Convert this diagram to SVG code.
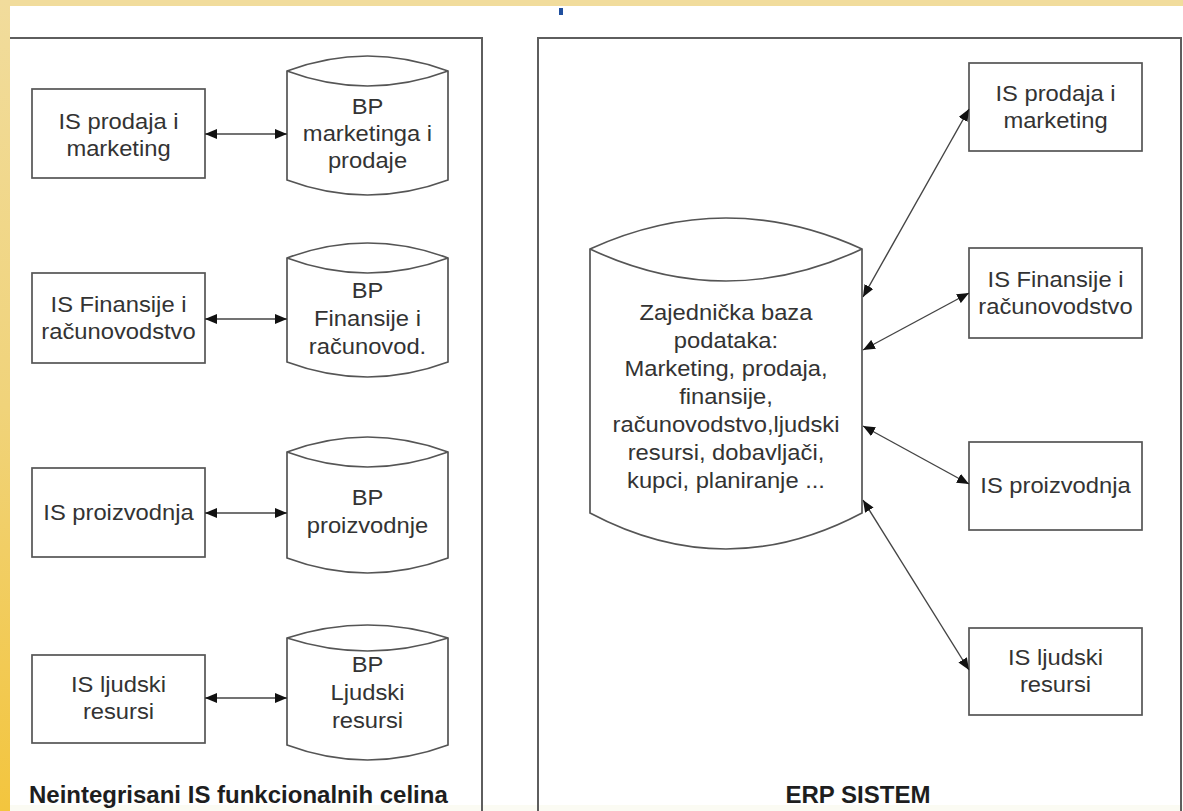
<svg xmlns="http://www.w3.org/2000/svg" width="1183" height="811" viewBox="0 0 1183 811">
  <defs>
    <linearGradient id="sideBand" x1="0" y1="0" x2="0" y2="1">
      <stop offset="0" stop-color="#f1dc9c"/>
      <stop offset="0.5" stop-color="#f0d37a"/>
      <stop offset="1" stop-color="#f3c53e"/>
    </linearGradient>
    <marker id="arrow" markerUnits="userSpaceOnUse" markerWidth="12" markerHeight="10" refX="12" refY="5" orient="auto-start-reverse">
      <path d="M0,0 L12,5 L0,10 z" fill="#111"/>
    </marker>
    <style>
      .frame { fill: none; stroke: #5e5e5e; stroke-width: 2; }
      .box { fill: #fff; stroke: #555; stroke-width: 1.7; }
      .db { fill: #fff; stroke: #555; stroke-width: 1.7; stroke-linejoin: miter; }
      .lbl { font-family: "Liberation Sans", Arial, sans-serif; font-size: 22px; fill: #333; text-anchor: middle; }
      .title { font-family: "Liberation Sans", Arial, sans-serif; font-size: 24px; font-weight: bold; fill: #1e1e1e; }
      .link { fill: none; stroke: #444; stroke-width: 1.4; marker-start: url(#arrow); marker-end: url(#arrow); }
    </style>
  </defs>

  <!-- page background and slide edges -->
  <rect x="0" y="0" width="1183" height="811" fill="#fff"/>
  <rect x="0" y="805" width="1183" height="6" fill="#fbfbf3"/>
  <rect x="0" y="0" width="1183" height="6" fill="#f1dc9c"/>
  <rect x="0" y="0" width="10" height="811" fill="url(#sideBand)"/>
  <rect x="559" y="8" width="4" height="7" fill="#1f4f9e"/>

  <!-- panel frames -->
  <g id="panel-left">
    <path class="frame" d="M10,38 H482 V811"/>
    <text class="title" x="29" y="803">Neintegrisani IS funkcionalnih celina</text>
  </g>
  <g id="panel-right">
    <path class="frame" d="M538,811 V38 H1181 V811"/>
    <text class="title" x="858" y="803" text-anchor="middle">ERP SISTEM</text>
  </g>

  <!-- left column: separate systems with their own databases -->
  <g id="is-prodaja-left">
    <rect class="box" x="32" y="89" width="173" height="89"/>
    <g transform="translate(118.5 0) scale(1.08 1)">
      <text class="lbl" x="0" y="129">IS prodaja i</text>
      <text class="lbl" x="0" y="156">marketing</text>
    </g>
  </g>
  <g id="bp-marketinga">
    <path class="db" d="M287,71 Q367.5,41 448,71 V180 Q367.5,210 287,180 Z"/>
    <path class="db" d="M287,71 Q367.5,101 448,71" fill="none"/>
    <g transform="translate(367.5 0) scale(1.08 1)">
      <text class="lbl" x="0" y="114">BP</text>
      <text class="lbl" x="0" y="141">marketinga i</text>
      <text class="lbl" x="0" y="168">prodaje</text>
    </g>
  </g>

  <g id="is-finansije-left">
    <rect class="box" x="32" y="273" width="173" height="90"/>
    <g transform="translate(118.5 0) scale(1.08 1)">
      <text class="lbl" x="0" y="312">IS Finansije i</text>
      <text class="lbl" x="0" y="339">računovodstvo</text>
    </g>
  </g>
  <g id="bp-finansije">
    <path class="db" d="M287,258 Q367.5,228 448,258 V362 Q367.5,392 287,362 Z"/>
    <path class="db" d="M287,258 Q367.5,288 448,258" fill="none"/>
    <g transform="translate(367.5 0) scale(1.08 1)">
      <text class="lbl" x="0" y="298">BP</text>
      <text class="lbl" x="0" y="326">Finansije i</text>
      <text class="lbl" x="0" y="354">računovod.</text>
    </g>
  </g>

  <g id="is-proizvodnja-left">
    <rect class="box" x="32" y="468" width="173" height="89"/>
    <g transform="translate(118.5 0) scale(1.08 1)">
      <text class="lbl" x="0" y="520">IS proizvodnja</text>
    </g>
  </g>
  <g id="bp-proizvodnje">
    <path class="db" d="M287,452 Q367.5,422 448,452 V558 Q367.5,588 287,558 Z"/>
    <path class="db" d="M287,452 Q367.5,482 448,452" fill="none"/>
    <g transform="translate(367.5 0) scale(1.08 1)">
      <text class="lbl" x="0" y="505">BP</text>
      <text class="lbl" x="0" y="533">proizvodnje</text>
    </g>
  </g>

  <g id="is-ljudski-left">
    <rect class="box" x="32" y="655" width="173" height="88"/>
    <g transform="translate(118.5 0) scale(1.08 1)">
      <text class="lbl" x="0" y="692">IS ljudski</text>
      <text class="lbl" x="0" y="719">resursi</text>
    </g>
  </g>
  <g id="bp-ljudski">
    <path class="db" d="M287,638 Q367.5,612 448,638 V745 Q367.5,775 287,745 Z"/>
    <path class="db" d="M287,638 Q367.5,664 448,638" fill="none"/>
    <g transform="translate(367.5 0) scale(1.08 1)">
      <text class="lbl" x="0" y="672">BP</text>
      <text class="lbl" x="0" y="700">Ljudski</text>
      <text class="lbl" x="0" y="728">resursi</text>
    </g>
  </g>

  <!-- right column: one shared database -->
  <g id="zajednicka-baza">
    <path class="db" d="M590,249 Q726,187 862,249 V513 Q726,585 590,513 Z"/>
    <path class="db" d="M590,249 Q726,313 862,249" fill="none"/>
    <g transform="translate(726 0) scale(1.08 1)">
      <text class="lbl" x="0" y="320">Zajednička baza</text>
      <text class="lbl" x="0" y="348">podataka:</text>
      <text class="lbl" x="0" y="376">Marketing, prodaja,</text>
      <text class="lbl" x="0" y="404">finansije,</text>
      <text class="lbl" x="0" y="432">računovodstvo,ljudski</text>
      <text class="lbl" x="0" y="460">resursi, dobavljači,</text>
      <text class="lbl" x="0" y="488">kupci, planiranje ...</text>
    </g>
  </g>

  <g id="is-prodaja-right">
    <rect class="box" x="969" y="63" width="173" height="88"/>
    <g transform="translate(1055.5 0) scale(1.08 1)">
      <text class="lbl" x="0" y="101">IS prodaja i</text>
      <text class="lbl" x="0" y="128">marketing</text>
    </g>
  </g>
  <g id="is-finansije-right">
    <rect class="box" x="969" y="248" width="173" height="90"/>
    <g transform="translate(1055.5 0) scale(1.08 1)">
      <text class="lbl" x="0" y="287">IS Finansije i</text>
      <text class="lbl" x="0" y="314">računovodstvo</text>
    </g>
  </g>
  <g id="is-proizvodnja-right">
    <rect class="box" x="969" y="442" width="173" height="88"/>
    <g transform="translate(1055.5 0) scale(1.08 1)">
      <text class="lbl" x="0" y="493">IS proizvodnja</text>
    </g>
  </g>
  <g id="is-ljudski-right">
    <rect class="box" x="969" y="628" width="173" height="87"/>
    <g transform="translate(1055.5 0) scale(1.08 1)">
      <text class="lbl" x="0" y="665">IS ljudski</text>
      <text class="lbl" x="0" y="692">resursi</text>
    </g>
  </g>

  <!-- two-way connectors -->
  <g id="connectors">
    <line class="link" x1="205" y1="134" x2="287" y2="134"/>
    <line class="link" x1="205" y1="319" x2="287" y2="319"/>
    <line class="link" x1="205" y1="513" x2="287" y2="513"/>
    <line class="link" x1="205" y1="698" x2="287" y2="698"/>
    <line class="link" x1="863" y1="297" x2="969" y2="109"/>
    <line class="link" x1="863" y1="350" x2="969" y2="293"/>
    <line class="link" x1="863" y1="426" x2="969" y2="484"/>
    <line class="link" x1="863" y1="500" x2="969" y2="670"/>
  </g>
</svg>
